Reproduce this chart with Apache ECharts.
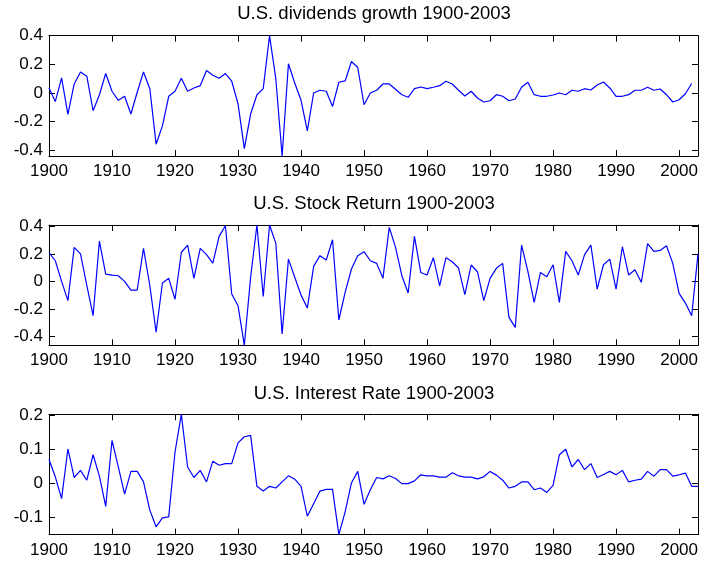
<!DOCTYPE html>
<html>
<head>
<meta charset="utf-8">
<script src="https://cdn.jsdelivr.net/npm/echarts@6/dist/echarts.min.js"></script>
<style>html,body{margin:0;padding:0;background:#fff}#c{width:701px;height:563px}</style>
</head>
<body>
<div id="c"></div>
<script>
const startYear = 1900;
const titles = ['U.S. dividends growth 1900-2003', 'U.S. Stock Return 1900-2003', 'U.S. Interest Rate 1900-2003'];
const xTicks = [1900, 1910, 1920, 1930, 1940, 1950, 1960, 1970, 1980, 1990, 2000];
const yTicks1 = [-0.4, -0.2, 0, 0.2, 0.4];
const yTicks2 = [-0.4, -0.2, 0, 0.2, 0.4];
const yTicks3 = [-0.1, 0, 0.1, 0.2];

const dividendsGrowth = [
  0.035, -0.06, 0.105, -0.15, 0.063, 0.147, 0.117, -0.124, -0.012, 0.136,
  0.012, -0.051, -0.023, -0.147, 0.005, 0.147, 0.03, -0.358, -0.23, -0.023,
  0.012, 0.103, 0.012, 0.035, 0.051, 0.157, 0.124, 0.103, 0.136, 0.082,
  -0.075, -0.388, -0.147, -0.012, 0.03, 0.40, 0.098, -0.44, 0.204, 0.07,
  -0.051, -0.264, 0.0, 0.019, 0.012, -0.094, 0.075, 0.084, 0.22, 0.178,
  -0.082, 0.0, 0.019, 0.063, 0.063, 0.026, -0.012, -0.03, 0.03, 0.042,
  0.03, 0.04, 0.051, 0.082, 0.063, 0.019, -0.021, 0.012, -0.035, -0.063,
  -0.054, -0.012, -0.023, -0.054, -0.042, 0.04, 0.075, -0.012, -0.023, -0.023,
  -0.014, 0.0, -0.012, 0.019, 0.012, 0.03, 0.021, 0.056, 0.077, 0.035,
  -0.023, -0.023, -0.012, 0.019, 0.019, 0.04, 0.019, 0.028, -0.012, -0.063,
  -0.047, -0.005, 0.066
];
const stockReturn = [
  0.21, 0.15, 0.0, -0.14, 0.247, 0.2, -0.03, -0.25, 0.293, 0.053,
  0.046, 0.041, 0.0, -0.063, -0.063, 0.24, -0.03, -0.37, -0.012, 0.022,
  -0.13, 0.21, 0.264, 0.022, 0.24, 0.194, 0.133, 0.327, 0.405, -0.092,
  -0.177, -0.465, 0.03, 0.41, -0.11, 0.41, 0.276, -0.383, 0.162, 0.03,
  -0.1, -0.194, 0.109, 0.187, 0.155, 0.303, -0.281, -0.08, 0.09, 0.187,
  0.216, 0.15, 0.131, 0.022, 0.393, 0.247, 0.041, -0.085, 0.327, 0.065,
  0.046, 0.172, -0.032, 0.172, 0.143, 0.097, -0.097, 0.119, 0.07, -0.14,
  0.022, 0.095, 0.131, -0.262, -0.335, 0.264, 0.073, -0.153, 0.065, 0.034,
  0.121, -0.153, 0.218, 0.15, 0.046, 0.194, 0.264, -0.056, 0.121, 0.162,
  -0.056, 0.252, 0.046, 0.085, -0.007, 0.274, 0.218, 0.225, 0.259, 0.131,
  -0.087, -0.158, -0.25, 0.2
];
const interestRate = [
  0.071, 0.02, -0.044, 0.102, 0.018, 0.039, 0.01, 0.085, 0.022, -0.067,
  0.127, 0.049, -0.031, 0.036, 0.036, 0.005, -0.078, -0.127, -0.101, -0.098,
  0.093, 0.204, 0.049, 0.018, 0.039, 0.005, 0.066, 0.054, 0.059, 0.059,
  0.12, 0.138, 0.142, -0.008, -0.022, -0.008, -0.013, 0.005, 0.023, 0.013,
  -0.008, -0.096, -0.059, -0.022, -0.017, -0.017, -0.15, -0.083, 0.002, 0.036,
  -0.061, -0.018, 0.018, 0.014, 0.023, 0.015, 0.0, 0.0, 0.008, 0.026,
  0.023, 0.023, 0.019, 0.019, 0.032, 0.023, 0.019, 0.019, 0.014, 0.02,
  0.036, 0.025, 0.01, -0.013, -0.008, 0.005, 0.005, -0.018, -0.013, -0.026,
  -0.005, 0.085, 0.101, 0.049, 0.071, 0.041, 0.059, 0.018, 0.027, 0.036,
  0.026, 0.039, 0.005, 0.01, 0.013, 0.036, 0.022, 0.041, 0.041, 0.022,
  0.026, 0.031, -0.008, -0.008
];

const seriesValues = [dividendsGrowth, stockReturn, interestRate];
const yTickSets = [yTicks1, yTicks2, yTicks3];
const xMin = 1900, xMax = 2003;

const FONT = 'Liberation Sans, Arial, Helvetica, sans-serif';
const gridTops = [35.7, 225, 414.3];
const gridHeight = 120.3;
const gridLeft = 49, gridWidth = 650;
const titleY = [13.5, 203.5, 393.5];

const grids = [], xAxes = [], yAxes = [], series = [], titleArr = [];
for (let i = 0; i < 3; i++) {
  const vals = seriesValues[i];
  const yMin = Math.min.apply(null, vals), yMax = Math.max.apply(null, vals);
  grids.push({ left: gridLeft, top: gridTops[i], width: gridWidth, height: gridHeight, containLabel: false });
  titleArr.push({
    text: titles[i], left: gridLeft + gridWidth / 2, top: titleY[i], padding: 0,
    textAlign: 'center', textVerticalAlign: 'middle',
    textStyle: { fontFamily: FONT, fontSize: 18.5, fontWeight: 'normal', color: '#000' }
  });
  const axisLineStyle = { show: true, onZero: false, lineStyle: { color: '#000', width: 1 } };
  const tickStyle = (vals2) => ({ show: true, inside: true, length: 6, customValues: vals2, lineStyle: { color: '#000', width: 1 } });
  xAxes.push({
    type: 'value', gridIndex: i, position: 'bottom', min: xMin, max: xMax,
    axisLine: axisLineStyle, axisTick: tickStyle(xTicks), splitLine: { show: false },
    axisLabel: { customValues: xTicks, formatter: (v) => String(v), color: '#000', fontFamily: FONT, fontSize: 17, margin: 7 }
  });
  xAxes.push({
    type: 'value', gridIndex: i, position: 'top', min: xMin, max: xMax,
    axisLine: axisLineStyle, axisTick: tickStyle(xTicks), splitLine: { show: false },
    axisLabel: { show: false }
  });
  yAxes.push({
    type: 'value', gridIndex: i, position: 'left', min: yMin, max: yMax,
    axisLine: axisLineStyle, axisTick: tickStyle(yTickSets[i]), splitLine: { show: false },
    axisLabel: { customValues: yTickSets[i], formatter: (v) => String(Math.round(v * 10) / 10), color: '#000', fontFamily: FONT, fontSize: 17, margin: 6 }
  });
  yAxes.push({
    type: 'value', gridIndex: i, position: 'right', min: yMin, max: yMax,
    axisLine: axisLineStyle, axisTick: tickStyle(yTickSets[i]), splitLine: { show: false },
    axisLabel: { show: false }
  });
  series.push({
    type: 'line', xAxisIndex: 2 * i, yAxisIndex: 2 * i,
    data: vals.map((v, k) => [startYear + k, v]),
    showSymbol: false, symbol: 'none',
    lineStyle: { color: '#0000ff', width: 1.2 },
    clip: false
  });
}

const chart = echarts.init(document.getElementById('c'), null, { renderer: 'canvas' });
chart.setOption({
  animation: false,
  backgroundColor: '#fff',
  title: titleArr,
  grid: grids,
  xAxis: xAxes,
  yAxis: yAxes,
  series: series
});
</script>
</body>
</html>
